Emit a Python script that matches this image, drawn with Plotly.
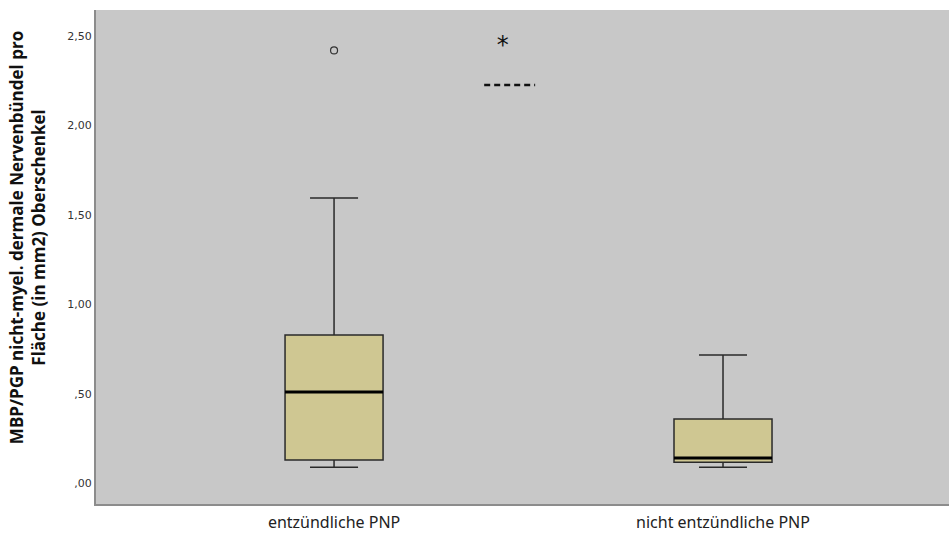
import plotly.graph_objects as go

# Group summary statistics
groups = ["entzündliche PNP", "nicht entzündliche PNP"]
x_pos = [0, 1]
lower_whisker = [0.089, 0.089]
q1 = [0.129, 0.117]
median = [0.509, 0.140]
q3 = [0.828, 0.358]
upper_whisker = [1.594, 0.716]

# Outlier (circle) of the first group
outlier_x = [0]
outlier_y = [2.42]

# Significance marker
star_x = [0.434]
star_y = [2.44]
sig_line_x = [0.386, 0.517]
sig_line_y = [2.226, 2.226]

y_tickvals = [0, 0.5, 1.0, 1.5, 2.0, 2.5]
y_ticktext = [",00", ",50", "1,00", "1,50", "2,00", "2,50"]

box_fill = "#cfc792"
box_line = "#2a2a2a"
box_width = 0.252

fig = go.Figure()

for i in range(len(groups)):
    fig.add_trace(go.Box(
        x=[x_pos[i]],
        q1=[q1[i]], median=[median[i]], q3=[q3[i]],
        lowerfence=[lower_whisker[i]], upperfence=[upper_whisker[i]],
        width=box_width, whiskerwidth=0.49,
        fillcolor=box_fill,
        line=dict(color=box_line, width=1.5),
        boxpoints=False, showlegend=False, hoverinfo="skip",
    ))
    # thick median bar
    fig.add_trace(go.Scatter(
        x=[x_pos[i] - box_width / 2, x_pos[i] + box_width / 2],
        y=[median[i], median[i]],
        mode="lines", line=dict(color="#000000", width=3),
        showlegend=False, hoverinfo="skip",
    ))

fig.add_trace(go.Scatter(
    x=outlier_x, y=outlier_y, mode="markers",
    marker=dict(symbol="circle-open", size=7, color="#333333", line=dict(width=1.2)),
    showlegend=False, hoverinfo="skip",
))

fig.add_trace(go.Scatter(
    x=star_x, y=star_y, mode="text", text=["*"],
    textfont=dict(family="DejaVu Sans", size=24, color="#111111"),
    textposition="middle center",
    showlegend=False, hoverinfo="skip",
))

fig.add_trace(go.Scatter(
    x=sig_line_x, y=sig_line_y, mode="lines",
    line=dict(color="#111111", width=2.5, dash="6px,4px"),
    showlegend=False, hoverinfo="skip",
))

fig.add_annotation(
    text="<b>MBP/PGP nicht-myel. dermale Nervenbündel pro<br>Fläche (in mm2) Oberschenkel</b>",
    xref="paper", yref="paper", x=-0.081, y=0.54,
    xanchor="center", yanchor="middle", textangle=-90,
    showarrow=False, align="center",
    font=dict(family="Open Sans", size=17, color="#111111"),
)

fig.update_layout(
    width=949, height=534,
    margin=dict(l=96, r=0, t=10, b=30),
    paper_bgcolor="#ffffff",
    plot_bgcolor="#c8c8c8",
    xaxis=dict(
        range=[-0.612, 1.581],
        tickvals=x_pos, ticktext=groups,
        showgrid=False, zeroline=False,
        showline=True, linecolor="#8c8c8c", linewidth=2,
        ticks="", tickfont=dict(family="Noto Sans", size=16, color="#222222"),
        ticklabelstandoff=3,
    ),
    yaxis=dict(
        range=[-0.117, 2.646],
        tickvals=y_tickvals, ticktext=y_ticktext,
        showgrid=False, zeroline=False,
        showline=True, linecolor="#8c8c8c", linewidth=2,
        ticks="", ticklen=0,
        tickfont=dict(family="DejaVu Sans", size=11, color="#333333"),
    ),
)

fig.write_html("out.html")
